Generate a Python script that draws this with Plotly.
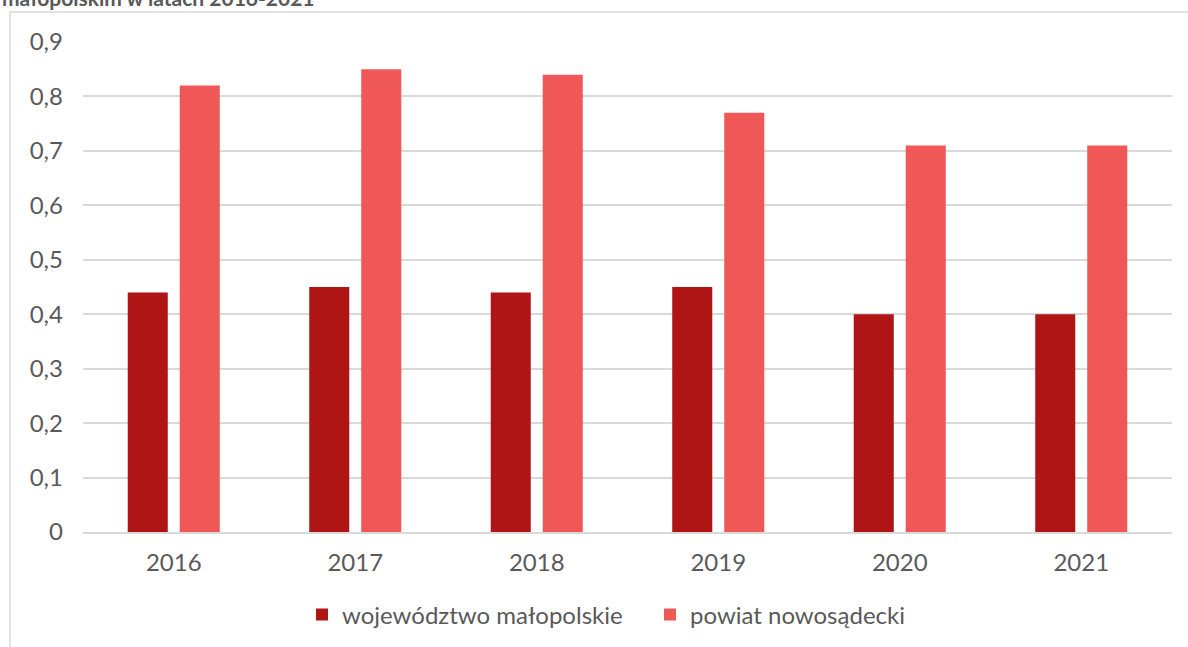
import plotly.graph_objects as go

years = ["2016", "2017", "2018", "2019", "2020", "2021"]
malopolskie = [0.44, 0.45, 0.44, 0.45, 0.40, 0.40]
nowosadecki = [0.82, 0.85, 0.84, 0.77, 0.71, 0.71]
series_names = ["województwo małopolskie", "powiat nowosądecki"]
tick_vals = [0, 0.1, 0.2, 0.3, 0.4, 0.5, 0.6, 0.7, 0.8, 0.9]
tick_text = ["0", "0,1", "0,2", "0,3", "0,4", "0,5", "0,6", "0,7", "0,8", "0,9"]
title_text = "małopolskim w latach 2016-2021"

W, H = 1188, 647
L, R, T, B = 83, 16, 42, 115
ph = H - T - B
pw = W - L - R

fig = go.Figure()
fig.add_trace(go.Bar(x=years, y=malopolskie, name=series_names[0],
                     marker=dict(color="#B01515", line=dict(width=0))))
fig.add_trace(go.Bar(x=years, y=nowosadecki, name=series_names[1],
                     marker=dict(color="#F05858", line=dict(width=0))))

font = "Lato, 'Open Sans', sans-serif"
fig.update_layout(
    width=W, height=H,
    margin=dict(l=L, r=R, t=T, b=B, autoexpand=False),
    paper_bgcolor="white", plot_bgcolor="white",
    barmode="group", bargap=0.427, bargroupgap=0.23,
    font=dict(family=font, color="#595959", size=24),
    showlegend=True,
    legend=dict(orientation="h", x=(302 - L) / pw, xanchor="left", y=(T + ph - 615) / ph,
                yanchor="middle", font=dict(size=24, color="#595959"),
                itemwidth=30, traceorder="normal", entrywidth=303),
    xaxis=dict(showgrid=False, showline=True, linecolor="#D9D9D9", linewidth=2,
               ticks="", automargin=False, ticklabelstandoff=8,
               tickfont=dict(size=24, color="#595959")),
    yaxis=dict(range=[0, 0.9], tickvals=tick_vals, ticktext=tick_text,
               showgrid=True, gridcolor="#D9D9D9", gridwidth=1.5,
               zeroline=False, showline=False, ticks="", automargin=False,
               ticklabelstandoff=19,
               tickfont=dict(size=24, color="#595959")),
)

fig.add_shape(type="rect", xref="paper", yref="paper",
              x0=(10 - L) / pw, x1=1.05, y0=-0.4, y1=1 + (T - 12) / ph,
              line=dict(color="#D9D9D9", width=1.5), fillcolor="rgba(0,0,0,0)", layer="below")

fig.add_annotation(text="<b>" + title_text + "</b>", xref="paper", yref="paper",
                   x=(0 - L) / pw, xanchor="left", y=1 + (T + 3) / ph, yanchor="middle",
                   showarrow=False, font=dict(size=21, color="#595959", family=font))

fig.write_html("out.html", config={"displayModeBar": False},
               post_script="document.body.style.margin='0';")
